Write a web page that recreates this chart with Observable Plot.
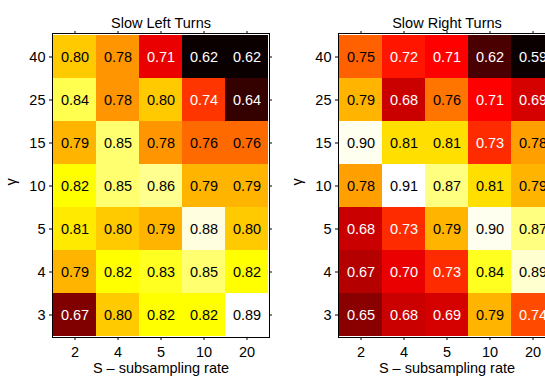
<!DOCTYPE html>
<html>
<head>
<meta charset="utf-8">
<script src="https://cdn.jsdelivr.net/npm/d3@7"></script>
<script src="https://cdn.jsdelivr.net/npm/@observablehq/plot@0.6"></script>
<style>
  html, body { margin: 0; padding: 0; background: #fff; }
  #wrap { width: 545px; height: 381px; overflow: hidden; display: flex; }
  #wrap > * { flex-shrink: 0; }
</style>
</head>
<body>
<div id="wrap"></div>
<script>
const sRates = ["2", "4", "5", "10", "20"];
const gammas = ["40", "25", "15", "10", "5", "4", "3"];
const leftTitle = "Slow Left Turns";
const rightTitle = "Slow Right Turns";
const xLabel = "S \u2013 subsampling rate";
const yLabel = "\u03b3";
// rows follow gammas (top to bottom), columns follow sRates
const leftValues = [
  [0.80, 0.78, 0.71, 0.62, 0.62],
  [0.84, 0.78, 0.80, 0.74, 0.64],
  [0.79, 0.85, 0.78, 0.76, 0.76],
  [0.82, 0.85, 0.86, 0.79, 0.79],
  [0.81, 0.80, 0.79, 0.88, 0.80],
  [0.79, 0.82, 0.83, 0.85, 0.82],
  [0.67, 0.80, 0.82, 0.82, 0.89]
];
const rightValues = [
  [0.75, 0.72, 0.71, 0.62, 0.59],
  [0.79, 0.68, 0.76, 0.71, 0.69],
  [0.90, 0.81, 0.81, 0.73, 0.78],
  [0.78, 0.91, 0.87, 0.81, 0.79],
  [0.68, 0.73, 0.79, 0.90, 0.87],
  [0.67, 0.70, 0.73, 0.84, 0.89],
  [0.65, 0.68, 0.69, 0.79, 0.74]
];

// MATLAB "hot" colormap with 64 levels
function hot(t) {
  const m = 64, n1 = 24, n2 = 24, n3 = m - n1 - n2;
  let idx = Math.floor(t * m) + 1;
  idx = Math.max(1, Math.min(m, idx));
  const r = idx <= n1 ? idx / n1 : 1;
  const g = idx <= n1 ? 0 : idx <= n1 + n2 ? (idx - n1) / n2 : 1;
  const b = idx <= n1 + n2 ? 0 : (idx - n1 - n2) / n3;
  return d3.rgb(r * 255, g * 255, b * 255).formatHex();
}

const font = "'Liberation Sans', Arial, Helvetica, sans-serif";

function panel(values, title, marginLeft, width) {
  const data = [];
  gammas.forEach((g, i) => sRates.forEach((s, j) => data.push({g, s, v: values[i][j]})));
  const lo = d3.min(data, d => d.v), hi = d3.max(data, d => d.v);
  return Plot.plot({
    width, height: 381,
    marginLeft, marginRight: width - marginLeft - 217, marginTop: 33, marginBottom: 44,
    style: {fontFamily: font, fontSize: "14px", color: "#000", background: "#fff"},
    x: {domain: sRates, padding: 0},
    y: {domain: gammas, padding: 0},
    color: {type: "linear", domain: [lo, hi], interpolate: hot, clamp: true},
    marks: [
      Plot.cell(data, {x: "s", y: "g", fill: "v"}),
      Plot.text(data, {
        x: "s", y: "g", text: d => d.v.toFixed(2), fontSize: 14.5,
        fill: d => ((d.v - lo) / (hi - lo) < 0.48 ? "white" : "black")
      }),
      Plot.frame({stroke: "#000", strokeWidth: 1}),
      Plot.axisX({anchor: "bottom", tickSize: 3, tickPadding: 6, fontSize: 14.5, label: null}),
      Plot.axisX({anchor: "top", tickSize: 3, tickFormat: () => "", label: null}),
      Plot.axisY({anchor: "left", tickSize: 3, tickPadding: 4, fontSize: 14.5, label: null}),
      Plot.axisY({anchor: "right", tickSize: 3, tickFormat: () => "", label: null}),
      Plot.text([title], {frameAnchor: "top", dy: -16, fontSize: 14.5, fill: "#000"}),
      Plot.text([xLabel], {frameAnchor: "bottom", dy: 35, fontSize: 14.5, fill: "#000"}),
      Plot.text([yLabel], {frameAnchor: "left", dx: -41, rotate: -90, fontSize: 14.5, fill: "#000"})
    ]
  });
}

const wrap = document.getElementById("wrap");
wrap.appendChild(panel(leftValues, leftTitle, 52, 272));
wrap.appendChild(panel(rightValues, rightTitle, 66, 288));
</script>
</body>
</html>
